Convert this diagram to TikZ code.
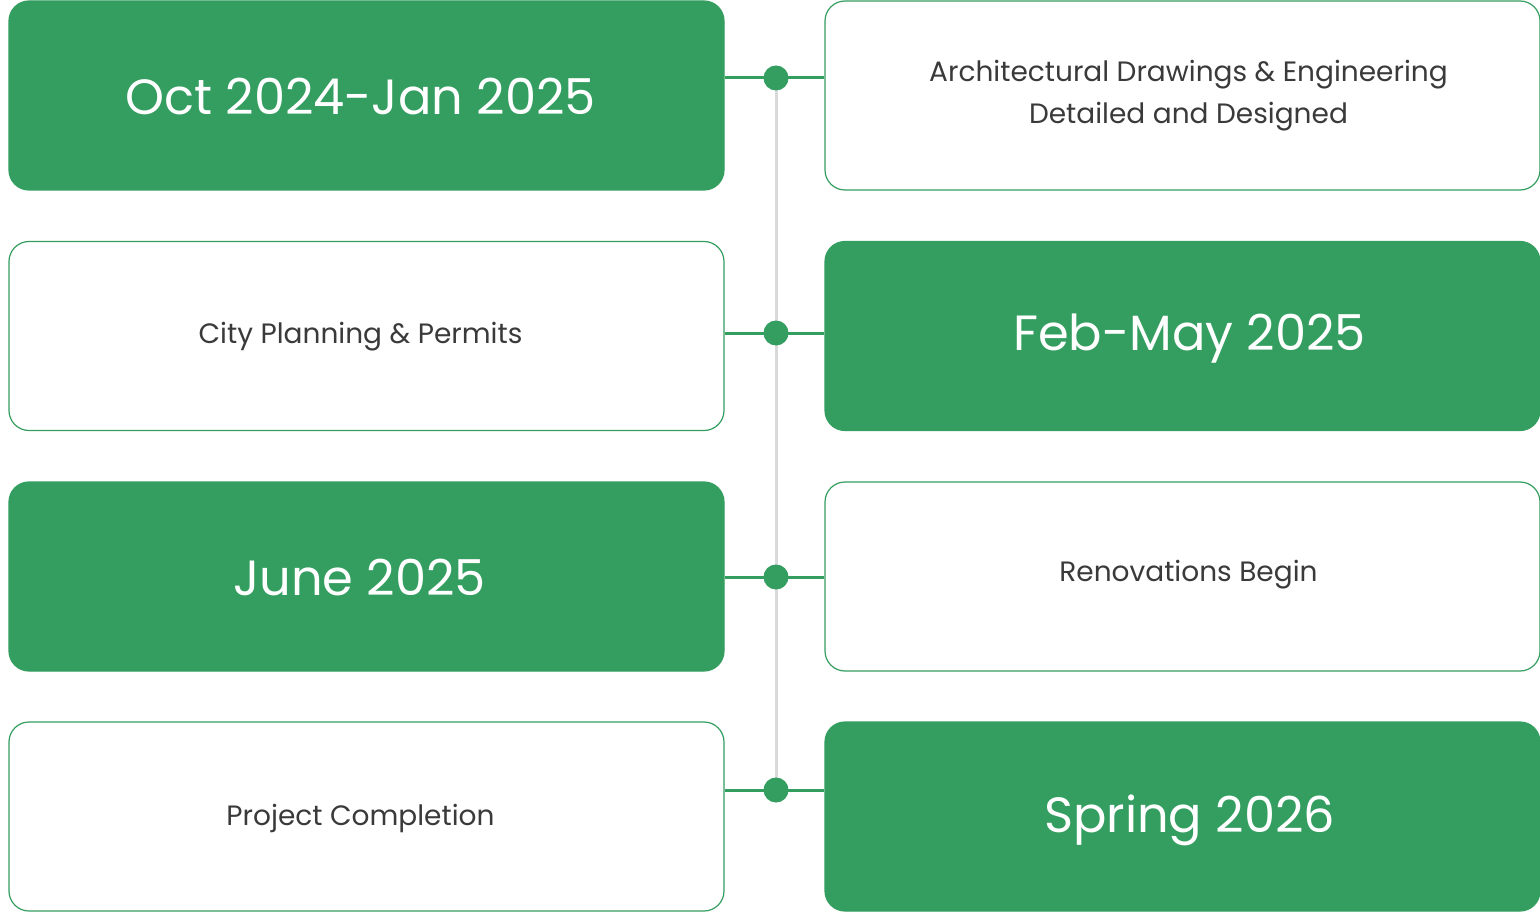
\documentclass[tikz,border=0pt]{standalone}
\usepackage{fontspec}
\setmainfont{Poppins}
\usetikzlibrary{calc}
\definecolor{tgreen}{HTML}{339E60}
\definecolor{tgrey}{HTML}{D9D9D9}
\definecolor{ttext}{HTML}{3A3A3A}
\begin{document}
\begin{tikzpicture}[x=1pt,y=-1pt,
  box/.style={rounded corners=20pt, minimum width=715pt, minimum height=189pt, inner sep=0pt, line width=1.2pt},
  datebox/.style={box, fill=tgreen, draw=tgreen},
  descbox/.style={box, fill=white, draw=tgreen},
  datetext/.style={align=center, text=white, font=\fontsize{49.5}{60}\selectfont},
  desctext/.style={align=center, text=ttext, font=\fontsize{28}{42}\selectfont},
  dot/.style={circle, fill=tgreen, minimum size=25pt, inner sep=0pt},
  link/.style={draw=tgreen, line width=3pt},
  spine/.style={draw=tgrey, line width=3pt}]
\useasboundingbox (0,0) rectangle (1540,912);
\fill[white] (0,0) rectangle (1540,912);
\node[datebox] (L1) at (366.5,95.5) {};
\node[descbox] (R1) at (1182.5,95.5) {};
\node[descbox] (L2) at (366.5,336) {};
\node[datebox] (R2) at (1182.5,336) {};
\node[datebox] (L3) at (366.5,576.5) {};
\node[descbox] (R3) at (1182.5,576.5) {};
\node[descbox] (L4) at (366.5,816.5) {};
\node[datebox] (R4) at (1182.5,816.5) {};
\node[datetext] (L1t) at ($(L1)+(-6,1)$) {Oct 2024-Jan 2025};
\node[desctext] (R1t) at ($(R1)+(6,0)$) {Architectural Drawings \& Engineering\\Detailed and Designed};
\node[desctext] (L2t) at ($(L2)+(-6,1)$) {City Planning \& Permits};
\node[datetext] (R2t) at ($(R2)+(7,3)$) {Feb-May 2025};
\node[datetext] (L3t) at ($(L3)+(-7,1)$) {June 2025};
\node[desctext] (R3t) at ($(R3)+(6,-2)$) {Renovations Begin};
\node[desctext] (L4t) at ($(L4)+(-6,2)$) {Project Completion};
\node[datetext] (R4t) at ($(R4)+(7,4)$) {Spring 2026};
\coordinate (c1) at (776,78);
\coordinate (c2) at (776,333);
\coordinate (c3) at (776,577);
\coordinate (c4) at (776,790);
\draw[spine] (c1) -- (c4);
\draw[link] (c1 -| L1.east) -- (c1 -| R1.west);
\draw[link] (c2 -| L2.east) -- (c2 -| R2.west);
\draw[link] (c3 -| L3.east) -- (c3 -| R3.west);
\draw[link] (c4 -| L4.east) -- (c4 -| R4.west);
\node[dot] (d1) at (c1) {};
\node[dot] (d2) at (c2) {};
\node[dot] (d3) at (c3) {};
\node[dot] (d4) at (c4) {};
\end{tikzpicture}
\end{document}
